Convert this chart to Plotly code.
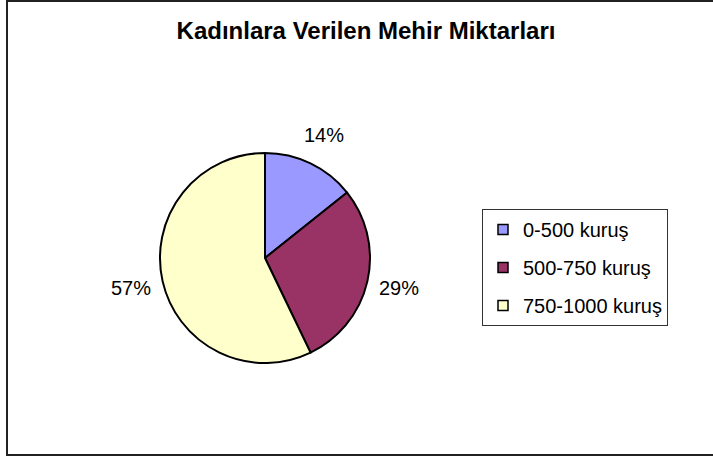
import math
import plotly.graph_objects as go

W, H = 713, 459

title_text = "Kadınlara Verilen Mehir Miktarları"
categories = ["0-500 kuruş", "500-750 kuruş", "750-1000 kuruş"]
values = [1, 2, 4]
colors = ["#9999FF", "#993366", "#FFFFCC"]

# pie geometry in pixels
cx, cy, r = 265, 258, 105
label_r = 137
FONT = "Liberation Sans, Arial"

fig = go.Figure(go.Pie(
    labels=categories,
    values=values,
    sort=False,
    direction="clockwise",
    rotation=0,
    marker=dict(colors=colors, line=dict(color="black", width=2)),
    textinfo="none",
    domain=dict(x=[(cx - r) / W, (cx + r) / W], y=[(H - cy - r) / H, (H - cy + r) / H]),
    hoverinfo="label+percent",
    showlegend=False,
))

# legend entries (one per category, spaced like the reference)
for i, (cat, col) in enumerate(zip(categories, colors)):
    fig.add_trace(go.Scatter(
        x=[None], y=[None], mode="markers", name=cat,
        legendgroup=str(i), showlegend=True,
        marker=dict(symbol="square", size=10, color=col, line=dict(color="black", width=1.5)),
    ))

# percentage labels outside the slices, placed along each slice's mid angle
total = sum(values)
annotations = []
cum = 0.0
for v in values:
    mid = (cum + v / 2) / total * 2 * math.pi
    cum += v
    px = cx + label_r * math.sin(mid)
    py = cy - label_r * math.cos(mid)
    annotations.append(dict(
        x=px / W, y=1 - py / H, xref="paper", yref="paper",
        text=f"{round(100 * v / total)}%", showarrow=False,
        xanchor="center", yanchor="middle",
        font=dict(size=20, family=FONT, color="black"),
    ))

fig.update_layout(
    width=W, height=H,
    margin=dict(l=0, r=0, t=0, b=0),
    paper_bgcolor="white",
    plot_bgcolor="white",
    xaxis=dict(visible=False), yaxis=dict(visible=False),
    font=dict(family=FONT, color="black"),
    title=dict(text="<b>" + title_text + "</b>", x=366 / W, xanchor="center",
               y=1 - 31 / H, yanchor="middle",
               font=dict(size=24, family=FONT, color="black")),
    showlegend=True,
    legend=dict(
        x=482 / W, xanchor="left", y=1 - 209 / H, yanchor="top",
        bordercolor="#333333", borderwidth=1, bgcolor="white",
        font=dict(size=20, family=FONT, color="black"),
        traceorder="grouped", tracegroupgap=9, itemwidth=30,
    ),
    annotations=annotations,
    shapes=[dict(type="rect", xref="paper", yref="paper",
                 x0=7 / W, x1=1.02, y0=1 - 455 / H, y1=1 - 1 / H,
                 line=dict(color="#222222", width=2), fillcolor="rgba(0,0,0,0)")],
)

fig.write_html("out.html", config={"displayModeBar": False},
               post_script="document.body.style.margin='0';document.body.style.padding='0';")
